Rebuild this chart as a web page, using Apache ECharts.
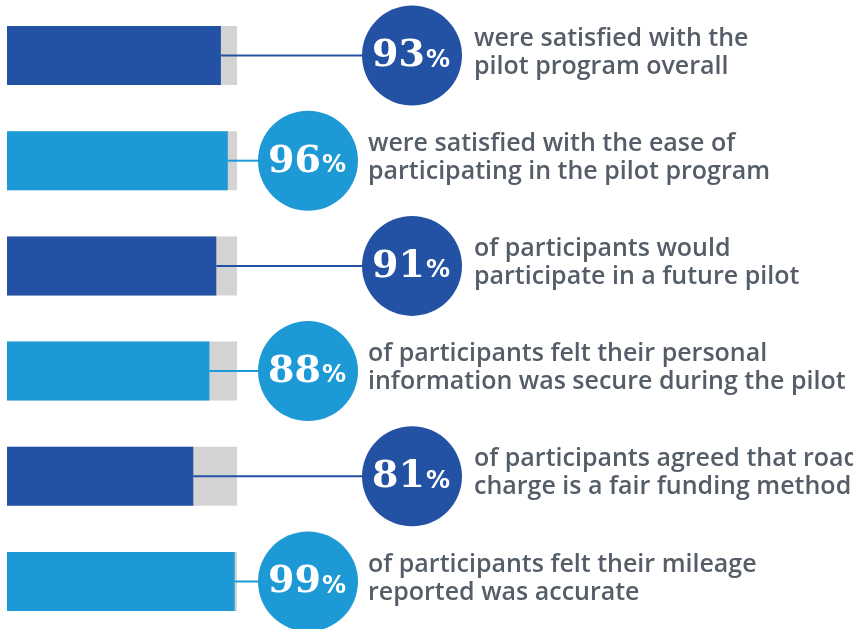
<!DOCTYPE html>
<html>
<head>
<meta charset="utf-8">
<script src="https://cdn.jsdelivr.net/npm/echarts@6/dist/echarts.min.js"></script>
<style>
  html, body { margin: 0; padding: 0; background: #fff; }
  #chart { width: 853px; height: 629px; }
</style>
</head>
<body>
<div id="chart"></div>
<script>
// survey results, top to bottom
const values = [93, 96, 91, 88, 81, 99];
const captions = [
  'were satisfied with the\npilot program overall',
  'were satisfied with the ease of\nparticipating in the pilot program',
  'of participants would\nparticipate in a future pilot',
  'of participants felt their personal\ninformation was secure during the pilot',
  'of participants agreed that road\ncharge is a fair funding method',
  'of participants felt their mileage\nreported was accurate'
];
const rows = ['r1', 'r2', 'r3', 'r4', 'r5', 'r6'];

const DARK = '#2352a4';
const LIGHT = '#1d9ad6';
const TEXT = '#555d68';
// circle centre x for dark / light rows
const circleX = [412, 308];
const R = 50;

const chart = echarts.init(document.getElementById('chart'));

const option = {
  animation: false,
  grid: { left: 7, top: 2.9, width: 230, height: 631.2, outerBoundsMode: 'none' },
  xAxis: { type: 'value', min: 0, max: 100, show: false },
  yAxis: { type: 'category', data: rows, inverse: true, show: false },
  series: [{
    type: 'bar',
    barWidth: 59,
    data: values.map((v, i) => ({
      value: v,
      itemStyle: { color: i % 2 ? LIGHT : DARK }
    })),
    showBackground: true,
    backgroundStyle: { color: '#d3d3d3' }
  }, {
    type: 'custom',
    clip: false,
    data: values.map((v, i) => [v, i]),
    renderItem: function (params, api) {
      const i = params.dataIndex;
      const end = api.coord([api.value(0), api.value(1)]);
      const cy = end[1];
      const cx = circleX[i % 2];
      const color = i % 2 ? LIGHT : DARK;
      return {
        type: 'group',
        children: [{
          type: 'line',
          shape: { x1: end[0], y1: cy, x2: cx - R + 1, y2: cy },
          style: { stroke: color, lineWidth: 2 }
        }, {
          type: 'circle',
          shape: { cx: cx, cy: cy, r: R },
          style: { fill: color }
        }, {
          type: 'text',
          style: {
            x: cx + 13, y: cy + 1,
            text: String(values[i]),
            fill: '#fff',
            font: 'bold 38px "DejaVu Serif"',
            align: 'right', verticalAlign: 'middle'
          }
        }, {
          type: 'text',
          style: {
            x: cx + 14, y: cy + 5,
            text: '%',
            fill: '#fff',
            font: 'bold 24px "DejaVu Sans"',
            align: 'left', verticalAlign: 'middle'
          }
        }, {
          type: 'text',
          style: {
            x: cx + R + (i % 2 ? 10 : 12), y: cy - 3,
            text: captions[i],
            fill: TEXT,
            font: '600 25px "Open Sans"',
            lineHeight: 28,
            align: 'left', verticalAlign: 'middle'
          }
        }]
      };
    }
  }]
};

chart.setOption(option);
</script>
</body>
</html>
